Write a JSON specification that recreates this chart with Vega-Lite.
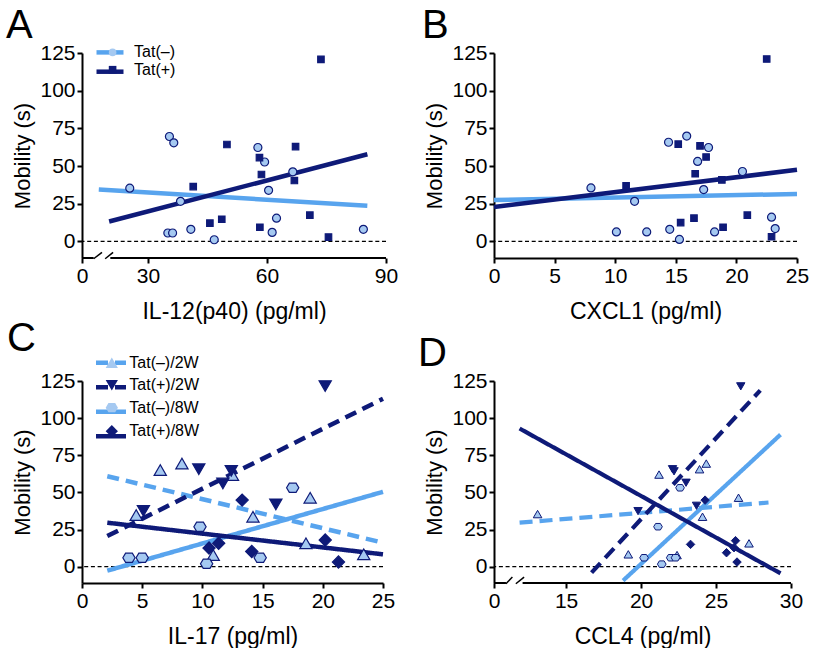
{
 "$schema": "https://vega.github.io/schema/vega-lite/v6.json",
 "background": "white",
 "padding": {"left": 6, "top": 6, "right": 4, "bottom": 0},
 "columns": 2,
 "spacing": {"row": -5, "column": 20},
 "config": {
  "font": "Liberation Sans",
  "view": {"stroke": null},
  "axis": {"domainColor": "#000", "domainWidth": 2, "tickColor": "#000", "tickWidth": 2, "tickSize": 5, "labelFont": "Liberation Sans", "labelFontSize": 21, "labelColor": "#000", "labelPadding": 2, "labelFlush": false, "labelOverlap": false, "titleFont": "Liberation Sans", "titleFontSize": 22, "titleFontWeight": "normal", "titleColor": "#000", "grid": false},
  "axisX": {"titleFontSize": 23, "titlePadding": 14},
  "axisY": {"titlePadding": 5},
  "title": {"font": "Liberation Sans", "fontSize": 40, "fontWeight": "normal", "color": "#000", "anchor": "start", "frame": "group"},
  "legend": {"padding": 0, "labelFont": "Liberation Sans", "labelFontSize": 16, "labelColor": "#000"}
 },
 "datasets": {
  "A_pts": [
   {"x": 25.4, "y": 35.3, "group": "Tat(–)"}, {"x": 35.4, "y": 69.6, "group": "Tat(–)"}, {"x": 36.5, "y": 65.4, "group": "Tat(–)"},
   {"x": 38.2, "y": 26.6, "group": "Tat(–)"}, {"x": 35.0, "y": 5.6, "group": "Tat(–)"}, {"x": 36.2, "y": 5.6, "group": "Tat(–)"},
   {"x": 40.8, "y": 8.0, "group": "Tat(–)"}, {"x": 46.7, "y": 1.1, "group": "Tat(–)"}, {"x": 57.7, "y": 62.3, "group": "Tat(–)"},
   {"x": 59.4, "y": 52.7, "group": "Tat(–)"}, {"x": 60.4, "y": 33.9, "group": "Tat(–)"}, {"x": 62.4, "y": 15.4, "group": "Tat(–)"},
   {"x": 61.3, "y": 6.0, "group": "Tat(–)"}, {"x": 66.5, "y": 46.2, "group": "Tat(–)"}, {"x": 84.3, "y": 8.0, "group": "Tat(–)"},
   {"x": 41.4, "y": 36.4, "group": "Tat(+)"}, {"x": 45.6, "y": 12.1, "group": "Tat(+)"}, {"x": 48.6, "y": 14.7, "group": "Tat(+)"},
   {"x": 49.9, "y": 64.3, "group": "Tat(+)"}, {"x": 58.1, "y": 55.6, "group": "Tat(+)"}, {"x": 58.6, "y": 44.4, "group": "Tat(+)"},
   {"x": 58.2, "y": 9.4, "group": "Tat(+)"}, {"x": 67.2, "y": 62.9, "group": "Tat(+)"}, {"x": 66.9, "y": 40.4, "group": "Tat(+)"},
   {"x": 70.8, "y": 17.4, "group": "Tat(+)"}, {"x": 73.6, "y": 120.8, "group": "Tat(+)"}, {"x": 75.5, "y": 2.9, "group": "Tat(+)"}
  ],
  "A_fit": [
   {"x": 17.6, "y": 34.4, "fit": "Tat(–) fit"}, {"x": 85.3, "y": 23.7, "fit": "Tat(–) fit"},
   {"x": 20.2, "y": 13.2, "fit": "Tat(+) fit"}, {"x": 85.3, "y": 57.8, "fit": "Tat(+) fit"}
  ],
  "B_pts": [
   {"x": 8.0, "y": 35.5, "group": "Tat(–)"}, {"x": 10.1, "y": 6.3, "group": "Tat(–)"}, {"x": 11.6, "y": 26.6, "group": "Tat(–)"},
   {"x": 12.6, "y": 6.3, "group": "Tat(–)"}, {"x": 14.4, "y": 65.8, "group": "Tat(–)"}, {"x": 15.9, "y": 69.9, "group": "Tat(–)"},
   {"x": 14.5, "y": 8.0, "group": "Tat(–)"}, {"x": 15.3, "y": 1.3, "group": "Tat(–)"}, {"x": 16.8, "y": 53.1, "group": "Tat(–)"},
   {"x": 17.3, "y": 34.4, "group": "Tat(–)"}, {"x": 17.7, "y": 62.3, "group": "Tat(–)"}, {"x": 18.2, "y": 6.3, "group": "Tat(–)"},
   {"x": 20.5, "y": 46.4, "group": "Tat(–)"}, {"x": 22.9, "y": 16.1, "group": "Tat(–)"}, {"x": 23.2, "y": 8.5, "group": "Tat(–)"},
   {"x": 10.9, "y": 36.8, "group": "Tat(+)"}, {"x": 15.2, "y": 64.5, "group": "Tat(+)"}, {"x": 17.0, "y": 63.4, "group": "Tat(+)"},
   {"x": 17.5, "y": 56.0, "group": "Tat(+)"}, {"x": 16.6, "y": 44.9, "group": "Tat(+)"}, {"x": 18.8, "y": 40.8, "group": "Tat(+)"},
   {"x": 15.4, "y": 12.5, "group": "Tat(+)"}, {"x": 16.5, "y": 15.4, "group": "Tat(+)"}, {"x": 18.9, "y": 9.4, "group": "Tat(+)"},
   {"x": 20.9, "y": 17.4, "group": "Tat(+)"}, {"x": 22.5, "y": 121.0, "group": "Tat(+)"}, {"x": 22.9, "y": 3.1, "group": "Tat(+)"}
  ],
  "B_fit": [
   {"x": 0, "y": 27.5, "fit": "Tat(–) fit"}, {"x": 25, "y": 31.5, "fit": "Tat(–) fit"},
   {"x": 0, "y": 22.8, "fit": "Tat(+) fit"}, {"x": 25, "y": 47.5, "fit": "Tat(+) fit"}
  ],
  "C_pts": [
   {"x": 4.5, "y": 34.7, "group": "Tat(–)/2W"}, {"x": 6.5, "y": 65.0, "group": "Tat(–)/2W"}, {"x": 8.3, "y": 69.4, "group": "Tat(–)/2W"},
   {"x": 12.5, "y": 61.6, "group": "Tat(–)/2W"}, {"x": 10.9, "y": 7.8, "group": "Tat(–)/2W"}, {"x": 14.2, "y": 33.6, "group": "Tat(–)/2W"},
   {"x": 18.95, "y": 46.4, "group": "Tat(–)/2W"}, {"x": 18.6, "y": 15.7, "group": "Tat(–)/2W"}, {"x": 23.4, "y": 8.3, "group": "Tat(–)/2W"},
   {"x": 5.1, "y": 37.6, "group": "Tat(+)/2W"}, {"x": 9.7, "y": 65.6, "group": "Tat(+)/2W"}, {"x": 11.7, "y": 56.0, "group": "Tat(+)/2W"},
   {"x": 12.4, "y": 64.5, "group": "Tat(+)/2W"}, {"x": 16.1, "y": 41.9, "group": "Tat(+)/2W"}, {"x": 20.2, "y": 121.6, "group": "Tat(+)/2W"},
   {"x": 3.9, "y": 6.0, "group": "Tat(–)/8W"}, {"x": 5.0, "y": 6.0, "group": "Tat(–)/8W"}, {"x": 9.8, "y": 26.9, "group": "Tat(–)/8W"},
   {"x": 10.35, "y": 2.0, "group": "Tat(–)/8W"}, {"x": 14.8, "y": 6.0, "group": "Tat(–)/8W"}, {"x": 17.5, "y": 53.1, "group": "Tat(–)/8W"},
   {"x": 10.55, "y": 12.5, "group": "Tat(+)/8W"}, {"x": 11.35, "y": 15.7, "group": "Tat(+)/8W"}, {"x": 13.3, "y": 44.8, "group": "Tat(+)/8W"},
   {"x": 14.1, "y": 10.2, "group": "Tat(+)/8W"}, {"x": 20.2, "y": 17.9, "group": "Tat(+)/8W"}, {"x": 21.3, "y": 3.1, "group": "Tat(+)/8W"}
  ],
  "C_fit": [
   {"x": 2.1, "y": 60.9, "fit": "Tat(–)/2W fit"}, {"x": 25, "y": 16.1, "fit": "Tat(–)/2W fit"},
   {"x": 2.1, "y": 20.6, "fit": "Tat(+)/2W fit"}, {"x": 25, "y": 113.0, "fit": "Tat(+)/2W fit"},
   {"x": 2.1, "y": -2.7, "fit": "Tat(–)/8W fit"}, {"x": 25, "y": 50.4, "fit": "Tat(–)/8W fit"},
   {"x": 2.1, "y": 29.6, "fit": "Tat(+)/8W fit"}, {"x": 25, "y": 8.3, "fit": "Tat(+)/8W fit"}
  ],
  "D_pts": [
   {"x": 13.1, "y": 35.4, "group": "Tat(–)/2W"}, {"x": 19.15, "y": 8.3, "group": "Tat(–)/2W"}, {"x": 21.2, "y": 62.0, "group": "Tat(–)/2W"},
   {"x": 22.4, "y": 7.8, "group": "Tat(–)/2W"}, {"x": 23.9, "y": 65.6, "group": "Tat(–)/2W"}, {"x": 24.1, "y": 33.6, "group": "Tat(–)/2W"},
   {"x": 24.35, "y": 69.4, "group": "Tat(–)/2W"}, {"x": 26.5, "y": 46.4, "group": "Tat(–)/2W"}, {"x": 27.2, "y": 15.7, "group": "Tat(–)/2W"},
   {"x": 19.8, "y": 37.4, "group": "Tat(+)/2W"}, {"x": 22.1, "y": 65.6, "group": "Tat(+)/2W"}, {"x": 22.2, "y": 64.2, "group": "Tat(+)/2W"},
   {"x": 23.0, "y": 56.5, "group": "Tat(+)/2W"}, {"x": 23.7, "y": 41.0, "group": "Tat(+)/2W"}, {"x": 26.65, "y": 121.4, "group": "Tat(+)/2W"},
   {"x": 20.2, "y": 6.0, "group": "Tat(–)/8W"}, {"x": 21.13, "y": 26.9, "group": "Tat(–)/8W"}, {"x": 21.38, "y": 1.7, "group": "Tat(–)/8W"},
   {"x": 21.98, "y": 6.0, "group": "Tat(–)/8W"}, {"x": 22.3, "y": 6.0, "group": "Tat(–)/8W"}, {"x": 22.6, "y": 53.1, "group": "Tat(–)/8W"},
   {"x": 23.3, "y": 15.0, "group": "Tat(+)/8W"}, {"x": 24.27, "y": 44.8, "group": "Tat(+)/8W"}, {"x": 25.7, "y": 9.4, "group": "Tat(+)/8W"},
   {"x": 26.3, "y": 17.5, "group": "Tat(+)/8W"}, {"x": 26.4, "y": 3.1, "group": "Tat(+)/8W"}, {"x": 26.2, "y": 12.8, "group": "Tat(+)/8W"}
  ],
  "D_fit": [
   {"x": 11.9, "y": 29.6, "fit": "Tat(–)/2W fit"}, {"x": 28.5, "y": 43.2, "fit": "Tat(–)/2W fit"},
   {"x": 16.7, "y": -4.0, "fit": "Tat(+)/2W fit"}, {"x": 27.95, "y": 118.7, "fit": "Tat(+)/2W fit"},
   {"x": 18.8, "y": -9.4, "fit": "Tat(–)/8W fit"}, {"x": 29.3, "y": 88.9, "fit": "Tat(–)/8W fit"},
   {"x": 11.9, "y": 93.0, "fit": "Tat(+)/8W fit"}, {"x": 29.3, "y": -4.5, "fit": "Tat(+)/8W fit"}
  ]
 },
 "concat": [
  {
   "width": 304, "height": 205,
   "title": {"text": "A", "dx": -76, "offset": -4},
   "layer": [
    {"data": {"values": [{}]}, "mark": {"type": "rule", "color": "#000", "strokeWidth": 1.3, "strokeDash": [4, 2.7]}, "encoding": {"y": {"datum": 0, "type": "quantitative"}}},
    {"data": {"values": [{}]}, "mark": {"type": "rule", "color": "#000", "strokeWidth": 2}, "encoding": {"x": {"datum": 0, "type": "quantitative"}, "x2": {"datum": 16.3}, "y": {"datum": -11, "type": "quantitative"}}},
    {"data": {"values": [{}]}, "mark": {"type": "rule", "color": "#000", "strokeWidth": 2}, "encoding": {"x": {"datum": 20.5, "type": "quantitative"}, "x2": {"datum": 90}, "y": {"datum": -11, "type": "quantitative"}}},
    {"data": {"values": [{}]}, "mark": {"type": "rule", "color": "#000", "strokeWidth": 1.5}, "encoding": {"x": {"datum": 16.3, "type": "quantitative"}, "x2": {"datum": 18.4}, "y": {"datum": -11.5, "type": "quantitative"}, "y2": {"datum": -7.3}}},
    {"data": {"values": [{}]}, "mark": {"type": "rule", "color": "#000", "strokeWidth": 1.5}, "encoding": {"x": {"datum": 19.2, "type": "quantitative"}, "x2": {"datum": 21.2}, "y": {"datum": -11.5, "type": "quantitative"}, "y2": {"datum": -7.3}}},
    {"data": {"name": "A_fit"}, "mark": {"type": "line", "strokeWidth": 4.5, "strokeCap": "butt"},
     "encoding": {"x": {"field": "x", "type": "quantitative"}, "y": {"field": "y", "type": "quantitative"},
      "color": {"field": "fit", "type": "nominal", "scale": {"domain": ["Tat(–) fit", "Tat(+) fit"], "range": ["#58A4EE", "#0E1A78"]},
       "legend": {"orient": "none", "legendX": 20, "legendY": -8.6, "title": null, "symbolType": "M-3,0H3", "symbolSize": 81, "symbolStrokeWidth": 4.5, "labelExpr": "''", "rowPadding": 1.3}}}},
    {"data": {"name": "A_pts"}, "mark": {"type": "point", "filled": true, "opacity": 1, "stroke": "#0E1A78", "strokeWidth": 1.2},
     "encoding": {
      "x": {"field": "x", "type": "quantitative", "scale": {"domain": [0, 15, 90], "range": [0, 6.5, 304], "nice": false, "zero": false}, "axis": {"values": [0, 30, 60, 90], "domain": false, "title": "IL-12(p40) (pg/ml)"}},
      "y": {"field": "y", "type": "quantitative", "scale": {"domain": [-11, 125], "nice": false, "zero": false}, "axis": {"values": [0, 25, 50, 75, 100, 125], "title": "Mobility (s)"}},
      "fill": {"field": "group", "type": "nominal", "scale": {"domain": ["Tat(–)", "Tat(+)"], "range": ["#A5C9F1", "#0E1A78"]},
       "legend": {"orient": "none", "legendX": 22.6, "legendY": -8.6, "title": null, "symbolSize": 58, "symbolStrokeWidth": 1.2, "symbolStrokeColor": "#0E1A78", "labelOffset": 13.5, "rowPadding": 1.3}},
      "shape": {"field": "group", "type": "nominal", "scale": {"domain": ["Tat(–)", "Tat(+)"], "range": ["circle", "square"]},
       "legend": {"orient": "none", "legendX": 22.6, "legendY": -8.6, "title": null, "symbolSize": 58, "symbolStrokeWidth": 1.2, "symbolStrokeColor": "#0E1A78", "labelOffset": 13.5, "rowPadding": 1.3}},
      "size": {"field": "group", "type": "nominal", "scale": {"range": [42, 64]}, "legend": null}
     }}
   ]
  },
  {
   "width": 303, "height": 205,
   "title": {"text": "B", "dx": -72, "offset": -4},
   "layer": [
    {"data": {"values": [{}]}, "mark": {"type": "rule", "color": "#000", "strokeWidth": 1.3, "strokeDash": [4, 2.7]}, "encoding": {"y": {"datum": 0, "type": "quantitative"}}},
    {"data": {"name": "B_fit"}, "mark": {"type": "line", "strokeWidth": 4.5, "strokeCap": "butt"},
     "encoding": {"x": {"field": "x", "type": "quantitative"}, "y": {"field": "y", "type": "quantitative"},
      "color": {"field": "fit", "type": "nominal", "scale": {"domain": ["Tat(–) fit", "Tat(+) fit"], "range": ["#58A4EE", "#0E1A78"]}, "legend": null}}},
    {"data": {"name": "B_pts"}, "mark": {"type": "point", "filled": true, "opacity": 1, "stroke": "#0E1A78", "strokeWidth": 1.2},
     "encoding": {
      "x": {"field": "x", "type": "quantitative", "scale": {"domain": [0, 25], "nice": false, "zero": false}, "axis": {"values": [0, 5, 10, 15, 20, 25], "title": "CXCL1 (pg/ml)"}},
      "y": {"field": "y", "type": "quantitative", "scale": {"domain": [-11, 125], "nice": false, "zero": false}, "axis": {"values": [0, 25, 50, 75, 100, 125], "title": "Mobility (s)"}},
      "fill": {"field": "group", "type": "nominal", "scale": {"domain": ["Tat(–)", "Tat(+)"], "range": ["#A5C9F1", "#0E1A78"]}, "legend": null},
      "shape": {"field": "group", "type": "nominal", "scale": {"domain": ["Tat(–)", "Tat(+)"], "range": ["circle", "square"]}, "legend": null},
      "size": {"field": "group", "type": "nominal", "scale": {"range": [42, 64]}, "legend": null}
     }}
   ]
  },
  {
   "width": 301, "height": 202,
   "title": {"text": "C", "dx": -75, "offset": -4},
   "layer": [
    {"data": {"values": [{}]}, "mark": {"type": "rule", "color": "#000", "strokeWidth": 1.3, "strokeDash": [4, 2.7]}, "encoding": {"y": {"datum": 0, "type": "quantitative"}}},
    {"data": {"name": "C_fit"}, "mark": {"type": "line", "strokeWidth": 4.5, "strokeCap": "butt"},
     "encoding": {"x": {"field": "x", "type": "quantitative"}, "y": {"field": "y", "type": "quantitative"},
      "color": {"field": "fit", "type": "nominal", "scale": {"domain": ["Tat(–)/2W fit", "Tat(+)/2W fit", "Tat(–)/8W fit", "Tat(+)/8W fit"], "range": ["#58A4EE", "#0E1A78", "#58A4EE", "#0E1A78"]},
       "legend": {"orient": "none", "legendX": 21, "legendY": -26.3, "title": null, "symbolType": "M-3,0H3", "symbolSize": 100, "symbolStrokeWidth": 4.5, "labelExpr": "''", "rowPadding": 6.5}},
      "strokeDash": {"field": "fit", "type": "nominal", "scale": {"domain": ["Tat(–)/2W fit", "Tat(+)/2W fit", "Tat(–)/8W fit", "Tat(+)/8W fit"], "range": [[12, 7], [12, 7], [1, 0], [1, 0]]},
       "legend": {"orient": "none", "legendX": 21, "legendY": -26.3, "title": null, "symbolType": "M-3,0H3", "symbolSize": 100, "symbolStrokeWidth": 4.5, "labelExpr": "''", "rowPadding": 6.5}}}},
    {"data": {"name": "C_pts"}, "mark": {"type": "point", "filled": true, "opacity": 1, "stroke": "#0E1A78", "strokeWidth": 1.2},
     "encoding": {
      "x": {"field": "x", "type": "quantitative", "scale": {"domain": [0, 25], "nice": false, "zero": false}, "axis": {"values": [0, 5, 10, 15, 20, 25], "title": "IL-17 (pg/ml)"}},
      "y": {"field": "y", "type": "quantitative", "scale": {"domain": [-11, 125], "nice": false, "zero": false}, "axis": {"values": [0, 25, 50, 75, 100, 125], "title": "Mobility (s)"}},
      "fill": {"field": "group", "type": "nominal", "scale": {"domain": ["Tat(–)/2W", "Tat(+)/2W", "Tat(–)/8W", "Tat(+)/8W"], "range": ["#A5C9F1", "#0E1A78", "#A5C9F1", "#0E1A78"]},
       "legend": {"orient": "none", "legendX": 21.8, "legendY": -26.3, "title": null, "symbolSize": 150, "symbolStrokeWidth": 1.2, "symbolStrokeColor": "#0E1A78", "labelOffset": 9.5, "rowPadding": 6.5}},
      "shape": {"field": "group", "type": "nominal", "scale": {"domain": ["Tat(–)/2W", "Tat(+)/2W", "Tat(–)/8W", "Tat(+)/8W"], "range": ["triangle-up", "triangle-down", "M-1,0L-0.55,-0.75L0.55,-0.75L1,0L0.55,0.75L-0.55,0.75Z", "diamond"]},
       "legend": {"orient": "none", "legendX": 21.8, "legendY": -26.3, "title": null, "symbolSize": 150, "symbolStrokeWidth": 1.2, "symbolStrokeColor": "#0E1A78", "labelOffset": 9.5, "rowPadding": 6.5}},
      "size": {"field": "group", "type": "nominal", "scale": {"range": [150, 150, 150, 260]}, "legend": null}
     }}
   ]
  },
  {
   "width": 297, "height": 202,
   "title": {"text": "D", "dx": -76, "offset": -4},
   "layer": [
    {"data": {"values": [{}]}, "mark": {"type": "rule", "color": "#000", "strokeWidth": 1.3, "strokeDash": [4, 2.7]}, "encoding": {"y": {"datum": 0, "type": "quantitative"}}},
    {"data": {"values": [{}]}, "mark": {"type": "rule", "color": "#000", "strokeWidth": 2}, "encoding": {"x": {"datum": 0, "type": "quantitative"}, "x2": {"datum": 10.86}, "y": {"datum": -11, "type": "quantitative"}}},
    {"data": {"values": [{}]}, "mark": {"type": "rule", "color": "#000", "strokeWidth": 2}, "encoding": {"x": {"datum": 12.1, "type": "quantitative"}, "x2": {"datum": 30}, "y": {"datum": -11, "type": "quantitative"}}},
    {"data": {"values": [{}]}, "mark": {"type": "rule", "color": "#000", "strokeWidth": 1.5}, "encoding": {"x": {"datum": 10.86, "type": "quantitative"}, "x2": {"datum": 11.42}, "y": {"datum": -11.5, "type": "quantitative"}, "y2": {"datum": -7.0}}},
    {"data": {"values": [{}]}, "mark": {"type": "rule", "color": "#000", "strokeWidth": 1.5}, "encoding": {"x": {"datum": 11.65, "type": "quantitative"}, "x2": {"datum": 12.2}, "y": {"datum": -11.5, "type": "quantitative"}, "y2": {"datum": -7.0}}},
    {"data": {"name": "D_fit"}, "mark": {"type": "line", "strokeWidth": 4.2, "strokeCap": "butt"},
     "encoding": {"x": {"field": "x", "type": "quantitative"}, "y": {"field": "y", "type": "quantitative"},
      "color": {"field": "fit", "type": "nominal", "scale": {"domain": ["Tat(–)/2W fit", "Tat(+)/2W fit", "Tat(–)/8W fit", "Tat(+)/8W fit"], "range": ["#58A4EE", "#0E1A78", "#58A4EE", "#0E1A78"]}, "legend": null},
      "strokeDash": {"field": "fit", "type": "nominal", "scale": {"domain": ["Tat(–)/2W fit", "Tat(+)/2W fit", "Tat(–)/8W fit", "Tat(+)/8W fit"], "range": [[13, 7], [13, 7], [1, 0], [1, 0]]}, "legend": null}}},
    {"data": {"name": "D_pts"}, "mark": {"type": "point", "filled": true, "opacity": 1, "stroke": "#0E1A78", "strokeWidth": 1},
     "encoding": {
      "x": {"field": "x", "type": "quantitative", "scale": {"domain": [0, 11, 30], "range": [0, 12.1, 297], "nice": false, "zero": false}, "axis": {"values": [0, 15, 20, 25, 30], "domain": false, "title": "CCL4 (pg/ml)"}},
      "y": {"field": "y", "type": "quantitative", "scale": {"domain": [-11, 125], "nice": false, "zero": false}, "axis": {"values": [0, 25, 50, 75, 100, 125], "title": "Mobility (s)"}},
      "fill": {"field": "group", "type": "nominal", "scale": {"domain": ["Tat(–)/2W", "Tat(+)/2W", "Tat(–)/8W", "Tat(+)/8W"], "range": ["#A5C9F1", "#0E1A78", "#A5C9F1", "#0E1A78"]}, "legend": null},
      "shape": {"field": "group", "type": "nominal", "scale": {"domain": ["Tat(–)/2W", "Tat(+)/2W", "Tat(–)/8W", "Tat(+)/8W"], "range": ["triangle-up", "triangle-down", "M-1,0L-0.55,-0.75L0.55,-0.75L1,0L0.55,0.75L-0.55,0.75Z", "diamond"]}, "legend": null},
      "size": {"field": "group", "type": "nominal", "scale": {"range": [70, 75, 70, 110]}, "legend": null}
     }}
   ]
  }
 ],
 "resolve": {
  "scale": {"x": "independent", "y": "independent", "color": "independent", "fill": "independent", "shape": "independent", "size": "independent", "strokeDash": "independent"},
  "axis": {"x": "independent", "y": "independent"},
  "legend": {"color": "independent", "fill": "independent", "shape": "independent", "size": "independent", "strokeDash": "independent"}
 }
}
